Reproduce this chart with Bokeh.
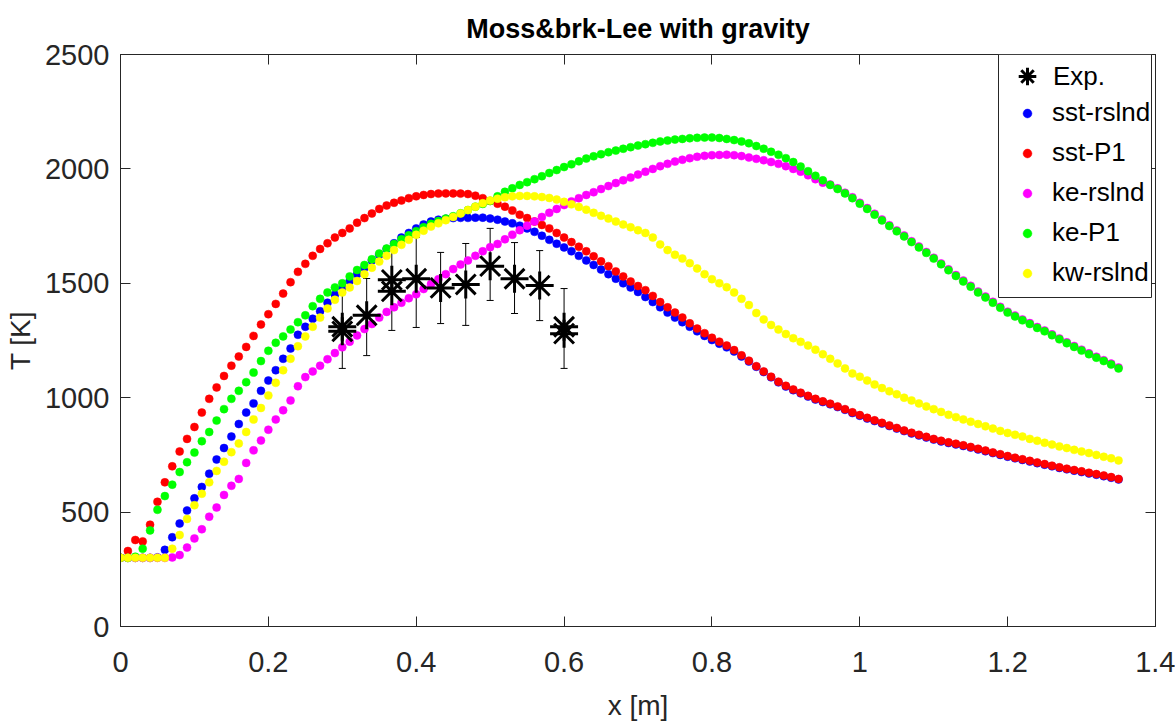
from bokeh.plotting import figure
from bokeh.models import (Range1d, FixedTicker, LinearAxis, Whisker, ColumnDataSource,
                          Legend, LegendItem, TeeHead, BoxAnnotation)
from bokeh.embed import file_html
from bokeh.resources import INLINE

FONT = "'Liberation Sans', Arial, sans-serif"

# ---------------- data ----------------
x_grid = [round(0.01 * i, 2) for i in range(136)]

sst_rslnd = [
    300, 300, 300, 300, 300, 302, 335, 390, 450, 507,
    560, 610, 668, 730, 780, 830, 885, 935, 975, 1030,
    1075, 1120, 1170, 1215, 1275, 1310, 1345, 1378, 1415, 1450,
    1480, 1510, 1540, 1568, 1600, 1625, 1650, 1675, 1700, 1720,
    1740, 1757, 1770, 1778, 1782, 1785, 1786, 1786, 1787, 1787,
    1783, 1778, 1770, 1762, 1752, 1740, 1725, 1708, 1690, 1673,
    1657, 1640, 1620, 1600, 1580, 1560, 1540, 1520, 1500, 1482,
    1462, 1440, 1418, 1395, 1372, 1350, 1330, 1310, 1290, 1270,
    1252, 1236, 1220, 1202, 1180, 1158, 1135, 1112, 1089, 1067,
    1049, 1033, 1019, 1005, 992, 981, 971, 959, 947, 933,
    921, 909, 898, 887, 876, 865, 854, 844, 835, 826,
    817, 809, 802, 796, 789, 782, 774, 766, 758, 750,
    742, 735, 728, 721, 714, 707, 700, 693, 687, 681,
    675, 669, 663, 657, 650, 643]

sst_P1 = [
    300, 330, 378, 372, 445, 545, 630, 700, 765, 820,
    872, 935, 995, 1045, 1095, 1140, 1180, 1222, 1270, 1320,
    1365, 1410, 1455, 1505, 1550, 1585, 1620, 1650, 1675, 1700,
    1720, 1740, 1765, 1785, 1805, 1825, 1840, 1852, 1862, 1872,
    1880, 1886, 1890, 1892, 1893, 1893, 1892, 1890, 1883, 1872,
    1860, 1848, 1835, 1818, 1800, 1785, 1770, 1755, 1740, 1720,
    1700, 1680, 1660, 1640, 1618, 1596, 1575, 1552, 1530, 1508,
    1488, 1470, 1445, 1418, 1395, 1372, 1350, 1325, 1302, 1282,
    1262, 1245, 1228, 1208, 1185, 1162, 1138, 1115, 1092, 1070,
    1052, 1036, 1022, 1008, 995, 984, 974, 962, 950, 936,
    924, 912, 901, 890, 879, 868, 857, 847, 838, 829,
    820, 812, 805, 799, 792, 785, 777, 769, 761, 753,
    745, 738, 731, 724, 717, 710, 703, 696, 690, 684,
    678, 672, 666, 660, 653, 645]

ke_rslnd = [
    300, 300, 300, 300, 300, 300, 300, 302, 312, 345,
    385, 425, 480, 520, 575, 615, 645, 715, 770, 813,
    860, 905, 945, 988, 1050, 1090, 1115, 1140, 1168, 1195,
    1220, 1245, 1272, 1300, 1322, 1350, 1375, 1395, 1415, 1435,
    1452, 1475, 1497, 1518, 1540, 1562, 1582, 1600, 1620, 1640,
    1658, 1672, 1692, 1712, 1732, 1752, 1770, 1790, 1808, 1825,
    1842, 1858, 1872, 1886, 1898, 1912, 1925, 1938, 1950, 1962,
    1975, 1988, 2000, 2012, 2022, 2032, 2040, 2047, 2053, 2057,
    2060, 2061, 2062, 2060, 2056, 2050, 2044, 2038, 2030, 2022,
    2012, 2000, 1988, 1972, 1955, 1940, 1932, 1915, 1896, 1876,
    1852, 1829, 1804, 1779, 1754, 1731, 1709, 1684, 1661, 1637,
    1612, 1587, 1561, 1536, 1512, 1489, 1464, 1442, 1419, 1397,
    1376, 1359, 1342, 1326, 1309, 1294, 1277, 1259, 1242, 1226,
    1210, 1194, 1179, 1164, 1149, 1132]

ke_P1 = [
    300, 300, 305, 340, 420, 510, 570, 620, 675, 718,
    760, 810, 850, 900, 950, 995, 1030, 1068, 1110, 1160,
    1205, 1240, 1268, 1298, 1330, 1360, 1400, 1432, 1460, 1482,
    1500, 1530, 1558, 1580, 1605, 1630, 1652, 1672, 1692, 1710,
    1728, 1745, 1760, 1772, 1783, 1793, 1806, 1820, 1835, 1847,
    1860, 1880, 1900, 1915, 1930, 1942, 1955, 1968, 1982, 1995,
    2008, 2020, 2033, 2045, 2055, 2064, 2073, 2080, 2088, 2095,
    2102, 2108, 2114, 2120, 2124, 2128, 2131, 2134, 2136, 2137,
    2137, 2135, 2131, 2126, 2120, 2112, 2100, 2088, 2075, 2062,
    2047, 2030, 2010, 1990, 1970, 1950, 1930, 1912, 1893, 1872,
    1848, 1825, 1800, 1775, 1750, 1727, 1705, 1680, 1657, 1633,
    1608, 1583, 1557, 1532, 1508, 1485, 1460, 1438, 1415, 1393,
    1372, 1355, 1338, 1322, 1305, 1290, 1273, 1255, 1238, 1222,
    1206, 1190, 1175, 1160, 1145, 1128]

kw_rslnd = [
    300, 300, 300, 300, 300, 300, 300, 340, 400, 470,
    530, 580, 630, 680, 720, 762, 800, 850, 905, 955,
    1010, 1065, 1120, 1170, 1225, 1268, 1310, 1350, 1390, 1428,
    1460, 1482, 1510, 1540, 1568, 1595, 1620, 1645, 1668, 1690,
    1712, 1730, 1748, 1762, 1776, 1790, 1805, 1820, 1835, 1850,
    1862, 1870, 1876, 1880, 1882, 1882, 1880, 1877, 1873, 1866,
    1856, 1845, 1834, 1822, 1808, 1795, 1783, 1770, 1757, 1745,
    1732, 1720, 1700, 1670, 1645, 1625, 1608, 1588, 1565, 1540,
    1518, 1500, 1483, 1460, 1432, 1405, 1370, 1342, 1318, 1298,
    1278, 1260, 1244, 1228, 1210, 1190, 1170, 1150, 1128, 1106,
    1092, 1075, 1058, 1042, 1028, 1015, 1000, 988, 975, 962,
    950, 938, 925, 915, 905, 895, 885, 875, 865, 855,
    846, 838, 830, 820, 812, 803, 795, 787, 780, 772,
    765, 758, 750, 742, 735, 726]

exp_x = [0.300, 0.300, 0.333, 0.367, 0.367, 0.400, 0.433, 0.467, 0.500, 0.533, 0.567, 0.600, 0.600]
exp_T = [1310, 1290, 1360, 1515, 1465, 1520, 1480, 1495, 1575, 1520, 1490, 1310, 1280]

err_x = [0.300, 0.333, 0.367, 0.400, 0.433, 0.467, 0.500, 0.533, 0.567, 0.600]
err_lo = [1128, 1184, 1294, 1307, 1324, 1316, 1425, 1368, 1337, 1128]
err_hi = [1477, 1521, 1652, 1700, 1635, 1674, 1740, 1678, 1643, 1477]

x_ticks = [0, 0.2, 0.4, 0.6, 0.8, 1.0, 1.2, 1.4]
x_tick_labels = ["0", "0.2", "0.4", "0.6", "0.8", "1", "1.2", "1.4"]
y_ticks = [0, 500, 1000, 1500, 2000, 2500]
y_tick_labels = ["0", "500", "1000", "1500", "2000", "2500"]

series_names = ["sst-rslnd", "sst-P1", "ke-rslnd", "ke-P1", "kw-rslnd"]
series_vals = [sst_rslnd, sst_P1, ke_rslnd, ke_P1, kw_rslnd]
series_colors = ["#0000FF", "#FF0000", "#FF00FF", "#00FF00", "#FFFF00"]

# ---------------- figure ----------------
p = figure(width=1175, height=725, output_backend="svg", toolbar_location=None,
           x_range=Range1d(0, 1.4), y_range=Range1d(0, 2500),
           min_border_left=120, min_border_right=20, min_border_top=54, min_border_bottom=99)

p.title.text = "Moss&brk-Lee with gravity"
p.title.align = "center"
p.title.text_font = FONT
p.title.text_font_size = "27px"
p.title.text_font_style = "bold"
p.title.text_color = "black"
p.title.standoff = 21

p.xgrid.visible = False
p.ygrid.visible = False
p.outline_line_color = "#262626"
p.outline_line_width = 1
p.outline_line_alpha = 1

def style_axis(ax, ticks, labels, show_labels=True):
    ax.ticker = FixedTicker(ticks=ticks)
    ax.minor_tick_line_color = None
    ax.major_tick_in = 10
    ax.major_tick_out = 0
    ax.major_tick_line_color = "#262626"
    ax.axis_line_color = "#262626"
    ax.major_label_text_font = FONT
    ax.major_label_text_color = "#262626"
    if show_labels:
        ax.major_label_overrides = {t: l for t, l in zip(ticks, labels)}
        ax.major_label_text_font_size = "29px"
    else:
        ax.major_label_overrides = {t: "" for t in ticks}
        ax.major_label_text_font_size = "8px"
        ax.major_label_standoff = 0

xa = p.xaxis[0]
ya = p.yaxis[0]
style_axis(xa, x_ticks, x_tick_labels)
style_axis(ya, y_ticks, y_tick_labels)
xa.major_label_standoff = 25
ya.major_label_standoff = 11
xa.axis_label = "x [m]"
ya.axis_label = "T [K]"
for ax in (xa, ya):
    ax.axis_label_text_font = FONT
    ax.axis_label_text_font_size = "28px"
    ax.axis_label_text_font_style = "normal"
    ax.axis_label_text_color = "#262626"
xa.axis_label_standoff = 15
ya.axis_label_standoff = 6

xt = LinearAxis()
style_axis(xt, x_ticks, x_tick_labels, show_labels=False)
p.add_layout(xt, "above")
yr = LinearAxis()
style_axis(yr, y_ticks, y_tick_labels, show_labels=False)
p.add_layout(yr, "right")

# error bars
err_src = ColumnDataSource(dict(x=err_x, lo=err_lo, hi=err_hi))
whisk = Whisker(source=err_src, base="x", upper="hi", lower="lo", dimension="height",
                line_color="black", line_width=1,
                upper_head=TeeHead(size=7, line_color="black", line_width=1),
                lower_head=TeeHead(size=7, line_color="black", line_width=1))

renderers = []
for name, vals, col in zip(series_names, series_vals, series_colors):
    r = p.scatter(x_grid, vals, marker="circle", size=8, fill_color=col, line_color=col,
                  line_width=0.5)
    renderers.append((name, r))

p.add_layout(whisk)
r_exp = p.scatter(exp_x, exp_T, marker="asterisk", size=28, line_color="black", line_width=3)

# legend: white box + two borderless legends (star bigger than dots)
box = BoxAnnotation(left=878, right=1031, top=572, bottom=329,
                    left_units="screen", right_units="screen",
                    top_units="screen", bottom_units="screen",
                    fill_color="white", fill_alpha=1,
                    line_color="#262626", line_width=1, line_alpha=1)
p.add_layout(box)

def style_legend(lg):
    lg.label_text_font = FONT
    lg.label_text_font_size = "26px"
    lg.label_text_color = "black"
    lg.label_height = 30
    lg.padding = 0
    lg.margin = 0
    lg.border_line_alpha = 0
    lg.background_fill_alpha = 0

leg_a = Legend(items=[LegendItem(label="Exp.", renderers=[r_exp])], location=(885, 528))
style_legend(leg_a)
leg_a.glyph_width = 44
leg_a.glyph_height = 44
leg_a.label_standoff = 4
p.add_layout(leg_a)

leg_b = Legend(items=[LegendItem(label=n, renderers=[r]) for n, r in renderers],
               location=(896, 338))
style_legend(leg_b)
leg_b.glyph_width = 22
leg_b.glyph_height = 22
leg_b.spacing = 9
leg_b.label_standoff = 14
p.add_layout(leg_b)

open("out.html", "w").write(file_html(p, INLINE))
